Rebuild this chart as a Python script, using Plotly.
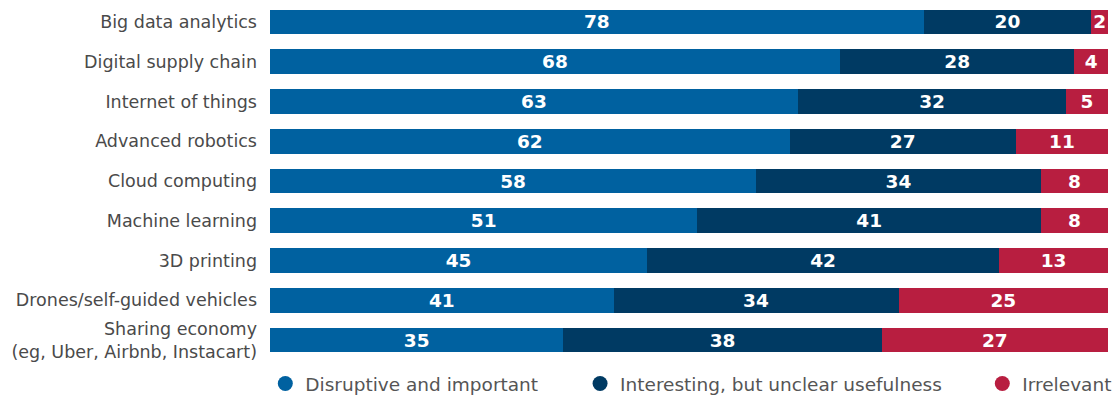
import plotly.graph_objects as go

categories = [
    "Big data analytics",
    "Digital supply chain",
    "Internet of things",
    "Advanced robotics",
    "Cloud computing",
    "Machine learning",
    "3D printing",
    "Drones/self-guided vehicles",
    "Sharing economy<br>(eg, Uber, Airbnb, Instacart)",
]
disruptive = [78, 68, 63, 62, 58, 51, 45, 41, 35]
interesting = [20, 28, 32, 27, 34, 41, 42, 34, 38]
irrelevant = [2, 4, 5, 11, 8, 8, 13, 25, 27]

series_names = ["Disruptive and important", "Interesting, but unclear usefulness", "Irrelevant"]
series_values = [disruptive, interesting, irrelevant]
colors = ["#0061a0", "#003a63", "#b81e40"]
legend_ids = ["legend", "legend2", "legend3"]

FONT = "DejaVu Sans"

fig = go.Figure()
for name, vals, col in zip(series_names, series_values, colors):
    fig.add_trace(go.Bar(
        y=categories, x=vals, orientation="h", name=name,
        marker=dict(color=col, line=dict(width=0)),
        width=0.62,
        text=[str(v) for v in vals],
        textposition="inside", insidetextanchor="middle",
        textangle=0, constraintext="none",
        textfont=dict(family=FONT, size=18.5, color="white", weight="bold"),
        showlegend=False, hoverinfo="skip",
    ))

for name, col, lid in zip(series_names, colors, legend_ids):
    fig.add_trace(go.Scatter(
        x=[None], y=[None], mode="markers", name=name,
        marker=dict(color=col, size=15, symbol="circle"),
        legend=lid, showlegend=True,
    ))

leg_common = dict(orientation="h", yanchor="middle", y=-0.067,
                  font=dict(family=FONT, size=18.5, color="#555555"),
                  bgcolor="rgba(0,0,0,0)", borderwidth=0, itemwidth=30)
fig.update_layout(
    barmode="stack",
    width=1114, height=396,
    margin=dict(l=270, r=6, t=2, b=36, autoexpand=False),
    paper_bgcolor="white", plot_bgcolor="white",
    xaxis=dict(range=[0, 100], visible=False, fixedrange=True),
    yaxis=dict(autorange="reversed", showgrid=False, zeroline=False,
               showline=False, ticks="", ticklabelstandoff=12, fixedrange=True,
               tickfont=dict(family=FONT, size=17.5, color="#4a4a4a")),
    legend=dict(x=-0.0056, xanchor="left", **leg_common),
    legend2=dict(x=0.370, xanchor="left", **leg_common),
    legend3=dict(x=0.850, xanchor="left", **leg_common),
)

fig.write_html("out.html", config={"displayModeBar": False},
               post_script="document.body.style.margin='0';")
